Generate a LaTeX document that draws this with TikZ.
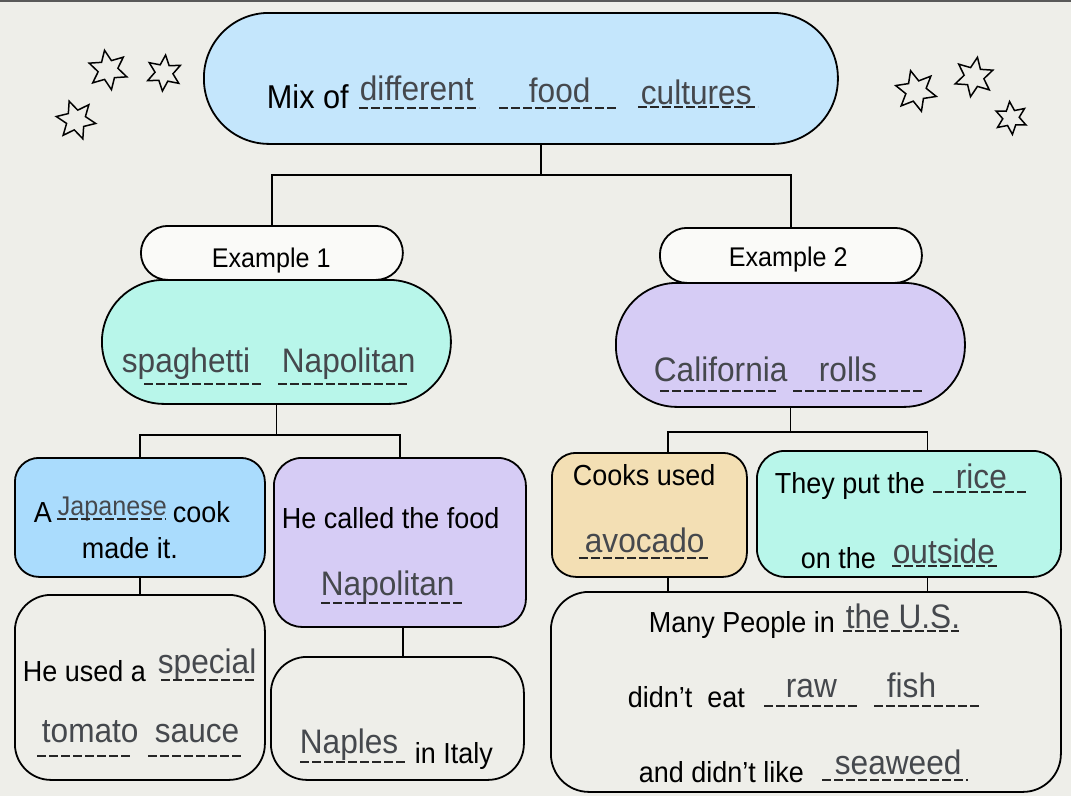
\documentclass[tikz,border=0pt]{standalone}
\usepackage{fontspec}
\setmainfont{Liberation Sans}
\newfontfamily\narrowsans[FakeStretch=0.93]{Liberation Sans}
\usetikzlibrary{shapes.geometric}

\definecolor{bgcol}{HTML}{EEEEE9}
\definecolor{skyblue}{HTML}{C4E6FC}
\definecolor{mint}{HTML}{B8F6EA}
\definecolor{lavender}{HTML}{D6CCF5}
\definecolor{cookblue}{HTML}{AADCFD}
\definecolor{wheat}{HTML}{F3DFB4}
\definecolor{pillwhite}{HTML}{FAFAF8}
\definecolor{wordgray}{HTML}{45484D}

\begin{document}
\begin{tikzpicture}[x=1pt, y=-1pt,
  box/.style={draw, line width=1.8pt, rounded corners=#1, inner sep=0pt, anchor=north west},
  lbl/.style={font=\narrowsans\fontsize{29}{34}\selectfont, anchor=base west, inner sep=0pt},
  word/.style={lbl, font=\narrowsans\fontsize{34}{40}\selectfont, text=wordgray},
  dashline/.style={line width=1.8pt, dash pattern=on 8.5pt off 3.5pt, black!85},
  twinkle/.style={star, star points=6, star point ratio=2, draw, line width=1.5pt,
    inner sep=0pt, minimum size=#1},
  every path/.style={line width=1.8pt}]
  \fill[bgcol] (0,0) rectangle (1071,796);
  \useasboundingbox (0,0) rectangle (1071,796);
  \draw[line width=2pt, black!65] (0,1) -- (1071,1);

  % stars
  \node[twinkle=40, rotate=10] (s1) at (108,70) {};
  \node[twinkle=36, rotate=-5] (s2) at (164,73) {};
  \node[twinkle=40, rotate=20] (s3) at (76,120) {};
  \node[twinkle=42, rotate=15] (s4) at (916,91) {};
  \node[twinkle=40, rotate=-10] (s5) at (974,77) {};
  \node[twinkle=33, rotate=5] (s6) at (1011,118) {};

  % boxes
  \node[box=65, fill=skyblue, minimum width=634, minimum height=131] (top) at (203,12) {};
  \node[box=62, fill=mint, minimum width=349, minimum height=124] (spag) at (101,279) {};
  \node[box=27, fill=pillwhite, minimum width=262, minimum height=54] (ex1) at (140,225) {};
  \node[box=61, fill=lavender, minimum width=349, minimum height=124] (cal) at (615,282) {};
  \node[box=27, fill=pillwhite, minimum width=262, minimum height=55] (ex2) at (659,227) {};
  \node[box=24, fill=cookblue, minimum width=250, minimum height=119] (jap) at (14,457) {};
  \node[box=28, fill=lavender, minimum width=252, minimum height=169] (call) at (273,457) {};
  \node[box=36, minimum width=250, minimum height=185] (used) at (14,594) {};
  \node[box=36, minimum width=253, minimum height=123] (naples) at (270,656) {};
  \node[box=24, fill=wheat, minimum width=195, minimum height=124] (cooks) at (551,452) {};
  \node[box=28, fill=mint, minimum width=304, minimum height=126] (put) at (756,450) {};
  \node[box=38, minimum width=510, minimum height=200] (many) at (550,591) {};

  % connectors
  \draw ([xshift=20]top.south) -- ++(0,30) coordinate (j0);
  \draw (ex1.north) |- (j0) -| (ex2.north);
  \draw (spag.south) -- ++(0,30) coordinate (j1);
  \draw (jap.north) |- (j1) -| (call.north);
  \draw (jap.south) -- (used.north);
  \draw ([xshift=3]call.south) -- ([xshift=3]call.south |- naples.north);
  \draw (cal.south) -- ++(0,24) coordinate (j2);
  \draw ([xshift=18.5]cooks.north) |- (j2) -| ([xshift=18.5]put.north);
  \draw ([xshift=18.5]cooks.south) -- ([xshift=18.5]cooks.south |- many.north);
  \draw ([xshift=18.5]put.south) -- ([xshift=18.5]put.south |- many.north);

  % texts
  \node[lbl, font=\narrowsans\fontsize{33}{38}\selectfont] (mix) at (266,108) {Mix of};
  \node[word] (w1) at (359,100) {different};
  \node[word] (w2) at (528,102) {food};
  \node[word] (w3) at (640,104) {cultures};
  \draw[dashline] (359,108) -- (479,108);
  \draw[dashline] (499,108) -- (617,108);
  \draw[dashline] (638,107) -- (758,107);

  \node[lbl, font=\narrowsans\fontsize{27}{32}\selectfont] (e1) at (211,267) {Example 1};
  \node[lbl, font=\narrowsans\fontsize{27}{32}\selectfont] (e2) at (728,266) {Example 2};

  \node[word] (w4) at (121,372) {spaghetti};
  \node[word] (w5) at (281,372) {Napolitan};
  \draw[dashline] (144,384) -- (262,384);
  \draw[dashline] (278,384) -- (407,384);

  \node[word] (w6) at (653,381) {California};
  \node[word] (w7) at (818,381) {rolls};
  \draw[dashline] (660,391) -- (776,391);
  \draw[dashline] (793,391) -- (923,391);

  \node[lbl] (t1) at (33,522) {A};
  \node[word, font=\narrowsans\fontsize{27}{32}\selectfont] (w8) at (57,515) {Japanese};
  \draw[dashline] (57,519) -- (166,519);
  \node[lbl] (t2) at (172,522) {cook};
  \node[lbl] (t3) at (81,558) {made it.};

  \node[lbl] (t4) at (281,528) {He called the food};
  \node[word] (w9) at (320,595) {Napolitan};
  \draw[dashline] (321,603) -- (463,603);

  \node[lbl] (t5) at (22,681) {He used a};
  \node[word] (w10) at (157,673) {special};
  \draw[dashline] (161,680) -- (254,680);
  \node[word] (w11) at (41,742) {tomato};
  \node[word] (w12) at (154,742) {sauce};
  \draw[dashline] (37,756) -- (130,756);
  \draw[dashline] (148,756) -- (241,756);

  \node[word] (w13) at (299,753) {Naples};
  \draw[dashline] (300,762) -- (405,762);
  \node[lbl] (t6) at (414,763) {in Italy};

  \node[lbl] (t7) at (572,485) {Cooks used};
  \node[word] (w14) at (584,552) {avocado};
  \draw[dashline] (579,558) -- (708,558);

  \node[lbl] (t8) at (774,493) {They put the};
  \node[word] (w15) at (955,488) {rice};
  \draw[dashline] (933,492) -- (1026,492);
  \node[lbl] (t9) at (800,568) {on the};
  \node[word] (w16) at (892,563) {outside};
  \draw[dashline] (892,566) -- (998,566);

  \node[lbl] (t10) at (648,632) {Many People in};
  \node[word] (w17) at (845,628) {the U.S.};
  \draw[dashline] (843,631) -- (959,631);
  \node[lbl] (t11) at (627,707) {didn’t~~eat};
  \node[word] (w18) at (785,697) {raw};
  \node[word] (w19) at (886,697) {fish};
  \draw[dashline] (764,706) -- (857,706);
  \draw[dashline] (874,706) -- (979,706);
  \node[lbl] (t12) at (638,782) {and didn’t like};
  \node[word] (w20) at (834,774) {seaweed};
  \draw[dashline] (822,780) -- (968,780);
\end{tikzpicture}
\end{document}
